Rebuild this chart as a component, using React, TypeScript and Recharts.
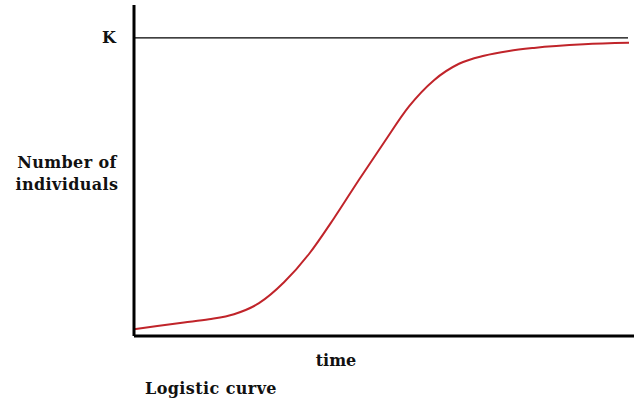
import React from "react";
import { LineChart, Line, XAxis, YAxis, ReferenceLine, Label } from "recharts";

const timeValues = [0, 10, 15, 20, 25, 30, 35, 40, 45, 50, 55, 60, 65, 70, 75, 80, 90, 99];
const populationValues = [2.3, 4.5, 5.6, 7.3, 11.0, 18.0, 27.5, 39.5, 52.4, 64.9, 77.0, 85.8, 91.3, 94.0, 95.6, 96.6, 97.8, 98.3];
const carryingCapacity = 100;
const yTickLabels = ["K"];
const xTitle = "time";
const yTitleLines = ["Number of", "individuals"];
const caption = "Logistic curve";

const data = timeValues.map((t, i) => ({ t, n: populationValues[i] }));

const FONT = "'DejaVu Serif', serif";

const XTitle = (props: any) => {
  const vb = props.viewBox || {};
  const y0 = vb.y || 0;
  return (
    <g fontFamily={FONT} fontWeight="bold" fontSize={16} fill="#111">
      <text x={336} y={y0 + 30} textAnchor="middle">{xTitle}</text>
      <text x={211} y={y0 + 58} textAnchor="middle" letterSpacing={0.4}>{caption}</text>
    </g>
  );
};

const YTitle = () => (
  <text x={67} y={168} textAnchor="middle" fontFamily={FONT} fontWeight="bold" fontSize={16} fill="#111" letterSpacing={0.4}>
    <tspan x={67} y={168}>{yTitleLines[0]}</tspan>
    <tspan x={67} y={190}>{yTitleLines[1]}</tspan>
  </text>
);

export default function App() {
  return (
    <div style={{ position: "absolute", left: 0, top: 0, width: 636, height: 400, background: "#fff" }}>
      <LineChart width={636} height={400} data={data} margin={{ top: 5, right: 2, left: 0, bottom: 0 }}>
        <XAxis
          dataKey="t"
          type="number"
          domain={[0, 100]}
          ticks={[]}
          tick={false}
          tickLine={false}
          height={64}
          axisLine={{ stroke: "#000", strokeWidth: 3 }}
        >
          <Label content={<XTitle />} />
        </XAxis>
        <YAxis
          type="number"
          domain={[0, 111]}
          ticks={[carryingCapacity]}
          tickFormatter={() => yTickLabels[0]}
          tickLine={false}
          tickSize={0}
          tickMargin={18}
          width={134}
          axisLine={{ stroke: "#000", strokeWidth: 3 }}
          tick={{ fill: "#111", fontFamily: FONT, fontWeight: "bold", fontSize: 16 }}
        >
          <Label content={<YTitle />} />
        </YAxis>
        <ReferenceLine
          segment={[{ x: 0, y: carryingCapacity }, { x: 98.8, y: carryingCapacity }]}
          stroke="#000"
          strokeWidth={1.2}
          ifOverflow="extendDomain"
        />
        <Line
          type="monotone"
          dataKey="n"
          stroke="#c0242a"
          strokeWidth={2}
          dot={false}
          isAnimationActive={false}
        />
      </LineChart>
    </div>
  );
}
